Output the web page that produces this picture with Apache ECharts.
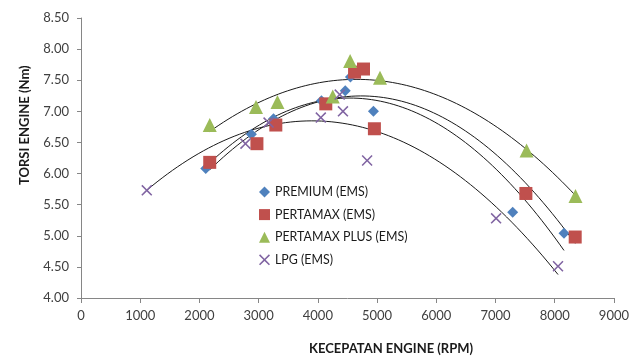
<!DOCTYPE html>
<html>
<head>
<meta charset="utf-8">
<script src="https://cdn.jsdelivr.net/npm/echarts@6/dist/echarts.min.js"></script>
<style>
html,body{margin:0;padding:0;background:#fff;}
#chart{width:632px;height:356px;}
</style>
</head>
<body>
<div id="chart"></div>
<script>
// ---- data ----
var seriesNames = ['PREMIUM (EMS)', 'PERTAMAX (EMS)', 'PERTAMAX PLUS (EMS)', 'LPG (EMS)'];

var premiumRpm    = [2107, 2877, 3251, 4061, 4463, 4550, 4939, 7290, 8157];
var premiumTorque = [6.08, 6.63, 6.88, 7.17, 7.33, 7.55, 7.00, 5.38, 5.04];

var pertamaxRpm    = [2174, 2971, 3290, 4134, 4620, 4771, 4955, 7513, 8346];
var pertamaxTorque = [6.18, 6.48, 6.78, 7.12, 7.63, 7.68, 6.72, 5.68, 4.98];

var plusRpm    = [2174, 2955, 3318, 4252, 4545, 5050, 7525, 8351];
var plusTorque = [6.78, 7.07, 7.15, 7.24, 7.81, 7.54, 6.37, 5.64];

var lpgRpm    = [1111, 2777, 3167, 4050, 4424, 4369, 4832, 7010, 8056];
var lpgTorque = [5.73, 6.48, 6.82, 6.90, 7.00, 7.27, 6.21, 5.28, 4.51];

var xTicks = [0, 1000, 2000, 3000, 4000, 5000, 6000, 7000, 8000, 9000];
var yTicks = [4.00, 4.50, 5.00, 5.50, 6.00, 6.50, 7.00, 7.50, 8.00, 8.50];

var colors = ['#4F81BD', '#C0504D', '#9BBB59', '#8064A2'];

// ---- build ----
function pairs(xs, ys) { return xs.map(function (x, i) { return [x, ys[i]]; }); }

// 2nd-order polynomial least-squares trendline (as in the spreadsheet chart)
function polyTrend(xs, ys) {
  var n = xs.length, s = [0,0,0,0,0], t = [0,0,0];
  for (var i = 0; i < n; i++) {
    var x = xs[i] / 1000, y = ys[i], p = 1;
    for (var k = 0; k <= 4; k++) { s[k] += p; if (k <= 2) t[k] += p * y; p *= x; }
  }
  var A = [[s[0], s[1], s[2], t[0]], [s[1], s[2], s[3], t[1]], [s[2], s[3], s[4], t[2]]];
  for (var c = 0; c < 3; c++) {
    for (var r = c + 1; r < 3; r++) {
      var f = A[r][c] / A[c][c];
      for (var j = c; j < 4; j++) A[r][j] -= f * A[c][j];
    }
  }
  var co = [0,0,0];
  for (var r2 = 2; r2 >= 0; r2--) {
    var v = A[r2][3];
    for (var j2 = r2 + 1; j2 < 3; j2++) v -= A[r2][j2] * co[j2];
    co[r2] = v / A[r2][r2];
  }
  var lo = Math.min.apply(null, xs), hi = Math.max.apply(null, xs), out = [];
  for (var m = 0; m <= 80; m++) {
    var xx = lo + (hi - lo) * m / 80, u = xx / 1000;
    out.push([xx, co[0] + co[1] * u + co[2] * u * u]);
  }
  return out;
}

var crossPath = 'path://M0,1L1,0L5,4L9,0L10,1L6,5L10,9L9,10L5,6L1,10L0,9L4,5Z';
var symbols = ['diamond', 'rect', 'triangle', crossPath];
var sizes = [11, 13, 14, 11];
var xsAll = [premiumRpm, pertamaxRpm, plusRpm, lpgRpm];
var ysAll = [premiumTorque, pertamaxTorque, plusTorque, lpgTorque];

var series = [];
for (var i = 0; i < 4; i++) {
  series.push({
    name: seriesNames[i] + ' fit', type: 'line', data: polyTrend(xsAll[i], ysAll[i]),
    showSymbol: false, symbol: 'none', silent: true, z: 1,
    lineStyle: { color: '#1a1a1a', width: 1 }
  });
}
for (var i2 = 0; i2 < 4; i2++) {
  series.push({
    name: seriesNames[i2], type: 'scatter', data: pairs(xsAll[i2], ysAll[i2]),
    symbol: symbols[i2], symbolSize: sizes[i2], z: 3,
    itemStyle: { color: colors[i2], opacity: 1 }
  });
}

var labelFont = { fontFamily: 'Lato', fontSize: 13, color: '#404040' };

var chart = echarts.init(document.getElementById('chart'), null, { renderer: 'canvas' });
chart.setOption({
  backgroundColor: '#ffffff',
  animation: false,
  grid: { left: 81, right: 14, top: 18, bottom: 58, containLabel: false },
  xAxis: {
    type: 'value', min: xTicks[0], max: xTicks[xTicks.length - 1], interval: 1000,
    axisLine: { show: true, lineStyle: { color: '#868686', width: 1 } },
    axisTick: { show: true, length: 5, lineStyle: { color: '#868686' } },
    axisLabel: Object.assign({ margin: 11, formatter: function (v) { return String(v); } }, labelFont),
    splitLine: { show: false }
  },
  yAxis: {
    type: 'value', min: yTicks[0], max: yTicks[yTicks.length - 1], interval: 0.5,
    axisLine: { show: true, lineStyle: { color: '#868686', width: 1 } },
    axisTick: { show: true, length: 4, lineStyle: { color: '#868686' } },
    axisLabel: Object.assign({ margin: 12, formatter: function (v) { return v.toFixed(2); } }, labelFont),
    splitLine: { show: false }
  },
  legend: {
    data: seriesNames, orient: 'vertical', left: 254, top: 181,
    itemWidth: 11, itemHeight: 11, itemGap: 10.6,
    textStyle: { fontFamily: 'Lato', fontSize: 12.4, color: '#1a1a1a' }
  },
  graphic: [
    { type: 'text', left: 309, top: 342,
      style: { text: 'KECEPATAN ENGINE (RPM)', fontFamily: 'Lato', fontWeight: 'bold', fontSize: 13, fill: '#1a1a1a' } },
    { type: 'text', rotation: Math.PI / 2, x: 18, y: 185, originX: 0, originY: 0,
      style: { text: 'TORSI ENGINE (Nm)', fontFamily: 'Lato', fontWeight: 'bold', fontSize: 13, fill: '#1a1a1a' } }
  ],
  series: series
});
</script>
</body>
</html>
